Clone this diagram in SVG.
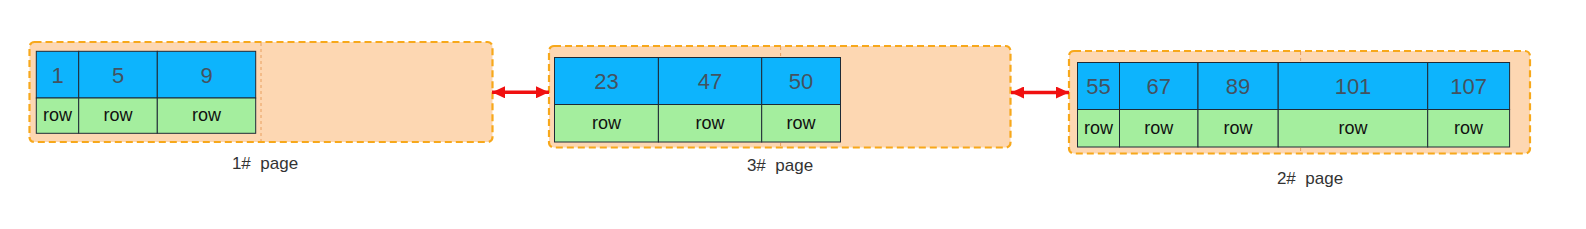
<svg xmlns="http://www.w3.org/2000/svg" width="1586" height="229" viewBox="0 0 1586 229">
<defs>
<marker id="ah" viewBox="0 0 13 12" refX="13" refY="6" markerWidth="13" markerHeight="12" markerUnits="userSpaceOnUse" orient="auto-start-reverse">
<path d="M0,0 L13,6 L0,12 Z" fill="#f01010"/>
</marker>
</defs>
<style>
.page{fill:#fdd7b2;stroke:#f7a81b;stroke-width:2.2;stroke-dasharray:7 4}
.mid{stroke:#e8a060;stroke-width:1;stroke-dasharray:3 3;fill:none}
.key{fill:#0db4fd;stroke:#1e2a36;stroke-width:1}
.row{fill:#a4ee9e;stroke:#1e2a36;stroke-width:1}
.num{font-family:"Liberation Sans",Arial,sans-serif;font-size:22px;fill:#44525f;text-anchor:middle}
.rt{font-family:"Liberation Sans",Arial,sans-serif;font-size:18px;fill:#111;text-anchor:middle}
.lbl{font-family:"Liberation Sans",Arial,sans-serif;font-size:17px;fill:#333;text-anchor:middle}
.link{stroke:#f01010;stroke-width:3.5;fill:none}
</style>
<g id="page1">
<rect class="page" x="29.5" y="42" width="463" height="100" rx="5"/>
<line class="mid" x1="261" y1="43" x2="261" y2="141"/>
<rect class="key" x="36.3" y="51.3" width="42.4" height="46.7"/>
<rect class="key" x="78.7" y="51.3" width="78.6" height="46.7"/>
<rect class="key" x="157.3" y="51.3" width="98.4" height="46.7"/>
<rect class="row" x="36.3" y="98" width="42.4" height="35.3"/>
<rect class="row" x="78.7" y="98" width="78.6" height="35.3"/>
<rect class="row" x="157.3" y="98" width="98.4" height="35.3"/>
<text class="num" x="57.5" y="82.5">1</text>
<text class="num" x="118" y="82.5">5</text>
<text class="num" x="206.5" y="82.5">9</text>
<text class="rt" x="57.5" y="121">row</text>
<text class="rt" x="118" y="121">row</text>
<text class="rt" x="206.5" y="121">row</text>
<text class="lbl" x="265" y="168.5" xml:space="preserve">1#  page</text>
</g>
<g id="page3">
<rect class="page" x="549" y="46" width="461.5" height="101.5" rx="5"/>
<line class="mid" x1="780.6" y1="47" x2="780.6" y2="146.5"/>
<rect class="key" x="554.5" y="57.5" width="103.9" height="47"/>
<rect class="key" x="658.4" y="57.5" width="103.3" height="47"/>
<rect class="key" x="761.7" y="57.5" width="78.8" height="47"/>
<rect class="row" x="554.5" y="104.5" width="103.9" height="37.5"/>
<rect class="row" x="658.4" y="104.5" width="103.3" height="37.5"/>
<rect class="row" x="761.7" y="104.5" width="78.8" height="37.5"/>
<text class="num" x="606.5" y="89">23</text>
<text class="num" x="710" y="89">47</text>
<text class="num" x="801" y="89">50</text>
<text class="rt" x="606.5" y="129">row</text>
<text class="rt" x="710" y="129">row</text>
<text class="rt" x="801" y="129">row</text>
<text class="lbl" x="780" y="171" xml:space="preserve">3#  page</text>
</g>
<g id="page2">
<rect class="page" x="1069" y="51" width="461" height="102.5" rx="5"/>
<line class="mid" x1="1300.6" y1="52" x2="1300.6" y2="152.5"/>
<rect class="key" x="1077.5" y="62.5" width="42" height="47"/>
<rect class="key" x="1119.5" y="62.5" width="78.5" height="47"/>
<rect class="key" x="1198" y="62.5" width="80.2" height="47"/>
<rect class="key" x="1278.2" y="62.5" width="149.5" height="47"/>
<rect class="key" x="1427.7" y="62.5" width="81.9" height="47"/>
<rect class="row" x="1077.5" y="109.5" width="42" height="37.5"/>
<rect class="row" x="1119.5" y="109.5" width="78.5" height="37.5"/>
<rect class="row" x="1198" y="109.5" width="80.2" height="37.5"/>
<rect class="row" x="1278.2" y="109.5" width="149.5" height="37.5"/>
<rect class="row" x="1427.7" y="109.5" width="81.9" height="37.5"/>
<text class="num" x="1098.5" y="94">55</text>
<text class="num" x="1158.7" y="94">67</text>
<text class="num" x="1238.1" y="94">89</text>
<text class="num" x="1353" y="94">101</text>
<text class="num" x="1468.6" y="94">107</text>
<text class="rt" x="1098.5" y="134">row</text>
<text class="rt" x="1158.7" y="134">row</text>
<text class="rt" x="1238.1" y="134">row</text>
<text class="rt" x="1353" y="134">row</text>
<text class="rt" x="1468.6" y="134">row</text>
<text class="lbl" x="1310" y="183.5" xml:space="preserve">2#  page</text>
</g>
<g id="connectors">
<line class="link" x1="492" y1="92.3" x2="549" y2="92.3" marker-start="url(#ah)" marker-end="url(#ah)"/>
<line class="link" x1="1011" y1="92.5" x2="1069" y2="92.5" marker-start="url(#ah)" marker-end="url(#ah)"/>
</g>
</svg>
